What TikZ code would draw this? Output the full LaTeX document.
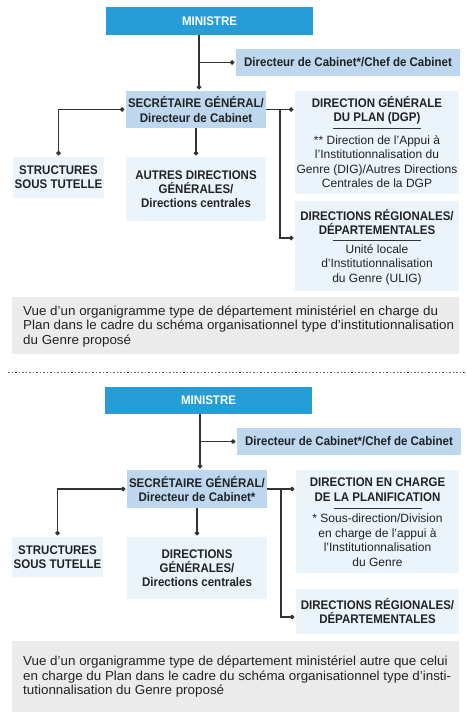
\documentclass[tikz,border=0pt]{standalone}
\usepackage{fontspec}
\setmainfont{Liberation Sans}
\newfontfamily\etroit[FakeStretch=0.92]{Liberation Sans}
\newfontfamily\legfont[FakeStretch=1.03]{Liberation Sans}
\usetikzlibrary{arrows.meta}

\definecolor{ministre}{HTML}{279DD8}
\definecolor{bleuclair}{HTML}{BDD7EE}
\definecolor{bleupale}{HTML}{EBF3FB}
\definecolor{grisfond}{HTML}{EBEBEB}
\definecolor{trait}{HTML}{333333}
\definecolor{texte}{HTML}{222222}

\begin{document}
\begin{tikzpicture}[x=1pt,y=-1pt,
  chef/.style={fill=ministre, text=white, inner sep=0pt, font=\etroit\bfseries\fontsize{12.5}{14}\selectfont},
  cadre/.style={fill=bleuclair, text=texte, inner sep=0pt, align=center, font=\etroit\bfseries\fontsize{12.5}{14.5}\selectfont},
  sous/.style={fill=bleupale, text=texte, inner sep=0pt, align=center, font=\etroit\bfseries\fontsize{12.5}{14}\selectfont},
  titre/.style={text=texte, inner sep=0pt, align=center, font=\etroit\bfseries\fontsize{12.5}{14.5}\selectfont},
  corps/.style={text=texte, inner sep=0pt, align=center, font=\fontsize{12}{14.5}\selectfont},
  legende/.style={text=texte, inner sep=0pt, align=left, font=\legfont\fontsize{13}{14.5}\selectfont},
  lien/.style={draw=trait, line width=1.2pt},
  bout/.style={-{Circle[length=4.5pt]}, shorten >=1.5pt},
  ]
  \useasboundingbox (0,0) rectangle (466,720);

  % ---------- premier organigramme ----------
  \node[chef, minimum width=207pt, minimum height=28pt] (min1) at (209.5,21) {MINISTRE};
  \node[cadre, minimum width=224pt, minimum height=27pt] (dc1) at (348,62.5) {Directeur de Cabinet*/Chef de Cabinet};
  \node[cadre, minimum width=140pt, minimum height=37pt] (sg1) at (196,109.5) {SECRÉTAIRE GÉNÉRAL/\\Directeur de Cabinet};
  \node[sous, minimum width=91pt, minimum height=41pt] (st1) at (58.5,177.5) {STRUCTURES\\SOUS TUTELLE};
  \node[sous, minimum width=140pt, minimum height=64pt] (ad1) at (196,189) {AUTRES DIRECTIONS\\GÉNÉRALES/\\Directions centrales};
  \node[sous, minimum width=164pt, minimum height=103pt] (dgp1) at (377,142.5) {};
  \node[sous, minimum width=164pt, minimum height=90pt] (dr1) at (377,246) {};

  % textes des directions
  \node[titre] (dgpt1) at (377,110.5) {DIRECTION GÉNÉRALE\\DU PLAN (DGP)};
  \node[corps] (dgpc1) at (377,161.5) {** Direction de l’Appui à\\l’Institutionnalisation du\\Genre (DIG)/Autres Directions\\Centrales de la DGP};
  \node[titre] (drt1) at (377,222) {DIRECTIONS RÉGIONALES/\\DÉPARTEMENTALES};
  \node[corps] (drc1) at (377,264.5) {Unité locale\\d’Institutionnalisation\\du Genre (ULIG)};
  \draw[trait, line width=1pt] (333,128) -- (421,128);
  \draw[trait, line width=1pt] (333,240) -- (421,240);

  % liaisons
  \coordinate (axe1) at (199,0);
  \coordinate (bras1) at (280,0);
  \draw[lien, bout] (min1.south -| axe1) -- (sg1.north -| axe1);
  \draw[lien, bout] (axe1 |- dc1.west) -- (dc1.west);
  \draw[lien, {Circle[length=4.5pt]}-{Circle[length=4.5pt]}, shorten <=1.5pt, shorten >=1.5pt] (sg1.west) -| (st1.north);
  \draw[lien, bout] (sg1.south) -- (ad1.north);
  \draw[lien, bout] (sg1.east) -- (dgp1.west |- sg1.east);
  \draw[lien, bout] (bras1 |- sg1.east) |- ([yshift=8pt]dr1.west);

  \fill[grisfond] (12,297) rectangle (459,354);
  \node[legende, anchor=west] (leg1) at (23,326.5) {Vue d’un organigramme type de département ministériel en charge du\\Plan dans le cadre du schéma organisationnel type d’institutionnalisation\\du Genre proposé};

  % separation
  \draw[trait!80, line width=0.8pt, dash pattern=on 1.5pt off 2pt] (8,372) -- (466,372);

  % ---------- second organigramme ----------
  \node[chef, minimum width=207pt, minimum height=27pt] (min2) at (208.5,400.5) {MINISTRE};
  \node[cadre, minimum width=224pt, minimum height=27pt] (dc2) at (349,441.5) {Directeur de Cabinet*/Chef de Cabinet};
  \node[cadre, minimum width=140pt, minimum height=38pt] (sg2) at (197,489) {SECRÉTAIRE GÉNÉRAL/\\Directeur de Cabinet*};
  \node[sous, minimum width=91pt, minimum height=40pt] (st2) at (57.5,557) {STRUCTURES\\SOUS TUTELLE};
  \node[sous, minimum width=140pt, minimum height=62pt] (di2) at (197,568) {DIRECTIONS\\GÉNÉRALES/\\Directions centrales};
  \node[sous, minimum width=163pt, minimum height=103pt] (pl2) at (377.5,521.5) {};
  \node[sous, minimum width=163pt, minimum height=45pt] (dr2) at (377.5,611.5) {DIRECTIONS RÉGIONALES/\\DÉPARTEMENTALES};

  \node[titre] (plt2) at (377.5,489.5) {DIRECTION EN CHARGE\\DE LA PLANIFICATION};
  \node[corps] (plc2) at (377.5,540) {* Sous-direction/Division\\en charge de l’appui à\\l’Institutionnalisation\\du Genre};
  \draw[trait, line width=1pt] (334,508) -- (422,508);

  \coordinate (axe2) at (200,0);
  \coordinate (bras2) at (281,0);
  \draw[lien, bout] (min2.south -| axe2) -- (sg2.north -| axe2);
  \draw[lien, bout] (axe2 |- dc2.west) -- (dc2.west);
  \draw[lien, {Circle[length=4.5pt]}-{Circle[length=4.5pt]}, shorten <=1.5pt, shorten >=1.5pt] (sg2.west) -| (st2.north);
  \draw[lien, bout] (sg2.south) -- (di2.north);
  \draw[lien, bout] (sg2.east) -- (pl2.west |- sg2.east);
  \draw[lien, bout] (bras2 |- sg2.east) |- ([yshift=-5.5pt]dr2.west);

  \fill[grisfond] (12,641) rectangle (459,712);
  \node[legende, anchor=west] (leg2) at (23,677) {Vue d’un organigramme type de département ministériel autre que celui\\en charge du Plan dans le cadre du schéma organisationnel type d’insti-\\tutionnalisation du Genre proposé};
\end{tikzpicture}
\end{document}
